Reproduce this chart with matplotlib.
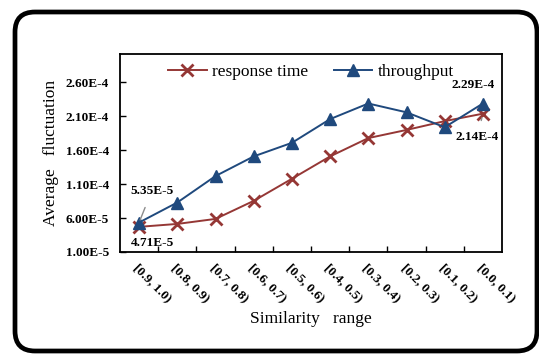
import matplotlib.pyplot as plt
from matplotlib.patches import FancyBboxPatch

categories = ['[0.9, 1.0)', '[0.8, 0.9)', '[0.7, 0.8)', '[0.6, 0.7)', '[0.5, 0.6)',
              '[0.4, 0.5)', '[0.3, 0.4)', '[0.2, 0.3)', '[0.1, 0.2)', '[0.0, 0.1)']
response_time = [4.71e-5, 5.14e-5, 5.88e-5, 8.54e-5, 1.18e-4,
                 1.51e-4, 1.78e-4, 1.90e-4, 2.03e-4, 2.14e-4]
throughput = [5.35e-5, 8.3e-5, 1.22e-4, 1.51e-4, 1.71e-4,
              2.06e-4, 2.29e-4, 2.16e-4, 1.94e-4, 2.29e-4]
yticks = [1.0e-5, 6.0e-5, 1.1e-4, 1.6e-4, 2.1e-4, 2.6e-4]
ytick_labels = ['1.00E-5', '6.00E-5', '1.10E-4', '1.60E-4', '2.10E-4', '2.60E-4']

RED = '#953735'
BLUE = '#1F497D'

plt.rcParams['font.family'] = ['Liberation Serif', 'DejaVu Serif']

fig = plt.figure(figsize=(5.39, 3.54), dpi=100)
ax = fig.add_axes([120 / 539, 1 - 252 / 354, 382 / 539, 198 / 354])

x = list(range(len(categories)))
ax.plot(x, response_time, color=RED, marker='x', markersize=9, mew=2,
        linewidth=1.4, label='response time')
ax.plot(x, throughput, color=BLUE, marker='^', markersize=9,
        linewidth=1.4, label='throughput')

ax.set_xlim(-0.5, len(categories) - 0.5)
ax.set_ylim(1.0e-5, 3.02e-4)

# category boundaries get the ticks, labels sit under the points
ax.set_xticks([i + 0.5 for i in x[:-1]])
ax.set_xticklabels([])
ax.tick_params(axis='x', direction='in', length=4, width=1)
for i, c in enumerate(categories):
    ax.text(i - 0.1, -0.07, c, transform=ax.get_xaxis_transform(),
            rotation=-45, rotation_mode='anchor', ha='left', va='center',
            fontsize=9.5, fontweight='bold')

ax.set_yticks(yticks)
ax.set_yticklabels(ytick_labels, fontsize=9.5, fontweight='bold')
ax.tick_params(axis='y', direction='in', length=4, width=1, pad=8)

for s in ax.spines.values():
    s.set_linewidth(1.3)

ax.set_xlabel('Similarity   range', fontsize=12.5)
ax.xaxis.set_label_coords(0.5, -0.3)
ax.set_ylabel('Average   fluctuation', fontsize=12.5)
ax.yaxis.set_label_coords(-0.16, 0.5)

ax.legend(loc='center', bbox_to_anchor=(0.5, 0.91), ncol=2, frameon=False,
          fontsize=12.5, handlelength=2.2, handletextpad=0.3, columnspacing=1.5,
          borderaxespad=0)

# value callouts
gray = '#8c8c8c'
ax.annotate('5.35E-5', xy=(0, throughput[0]), xytext=(0.33, 1.0e-4),
            fontsize=9.5, fontweight='bold', ha='center', va='center',
            arrowprops=dict(arrowstyle='-', color=gray, lw=1, shrinkA=6, shrinkB=2))
ax.text(0.35, 2.3e-5, '4.71E-5', fontsize=9.5, fontweight='bold',
        ha='center', va='center')
ax.text(8.75, 2.57e-4, '2.29E-4', fontsize=9.5, fontweight='bold',
        ha='center', va='center')
ax.annotate('2.14E-4', xy=(9, response_time[9]), xytext=(8.85, 1.79e-4),
            fontsize=9.5, fontweight='bold', ha='center', va='center',
            arrowprops=dict(arrowstyle='-', color=gray, lw=1, shrinkA=6, shrinkB=3))

# rounded outer frame
frame = FancyBboxPatch((0.15, 0.03), 5.22, 3.39,
                       boxstyle='round,pad=0,rounding_size=0.2',
                       transform=fig.dpi_scale_trans, fill=False,
                       edgecolor='black', linewidth=3.4, clip_on=False)
fig.patches.append(frame)

fig.savefig('out.png', dpi=100)
